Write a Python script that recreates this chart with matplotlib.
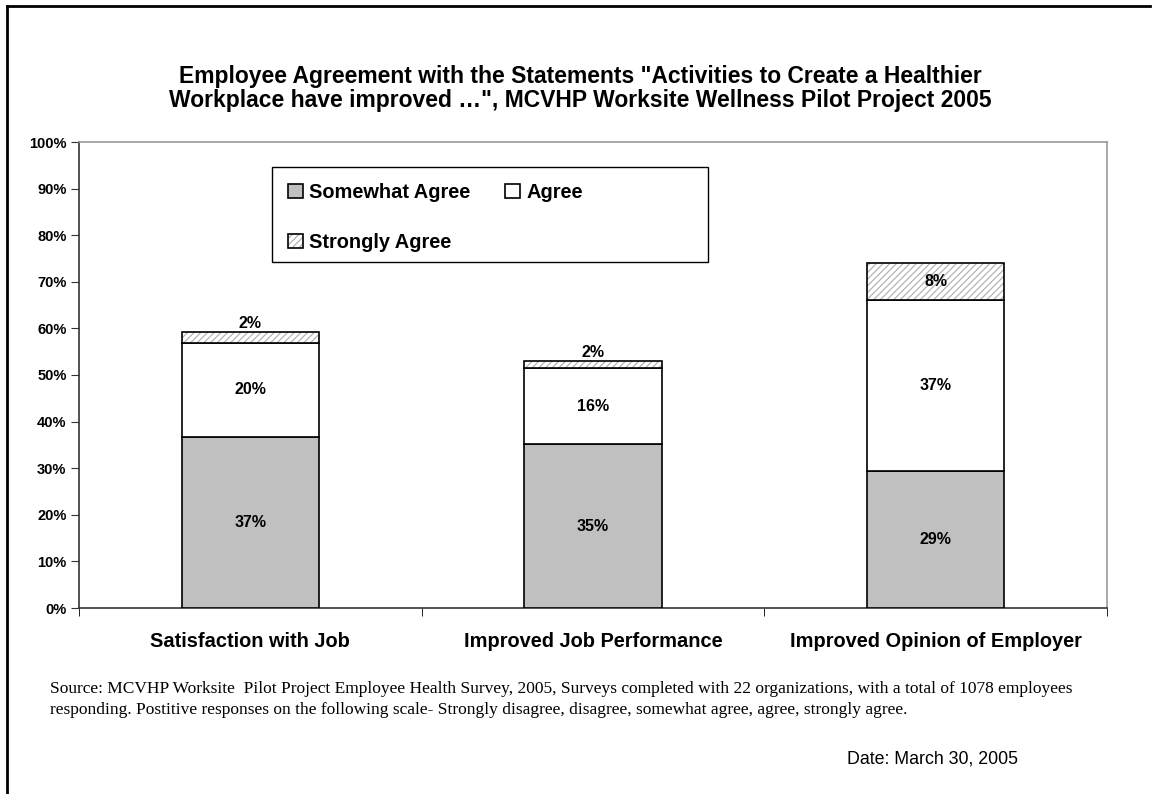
import matplotlib
matplotlib.use("Agg")
import matplotlib.pyplot as plt
from matplotlib.lines import Line2D
from matplotlib.patches import Rectangle
from matplotlib.legend_handler import HandlerTuple
import numpy as np

categories = ["Satisfaction with Job", "Improved Job Performance", "Improved Opinion of Employer"]
somewhat_agree = [36.7, 35.1, 29.4]
agree = [20.2, 16.4, 36.8]
strongly_agree = [2.4, 1.6, 7.9]
series_names = ["Somewhat Agree", "Agree", "Strongly Agree"]
ytick_vals = list(range(0, 101, 10))
ytick_labels = [f"{v}%" for v in ytick_vals]

plt.rcParams['font.family'] = ['Liberation Sans', 'DejaVu Sans']
plt.rcParams['hatch.linewidth'] = 0.9

W, H = 1153, 794
fig = plt.figure(figsize=(W / 100, H / 100), dpi=100)

ax_l, ax_r, ax_t, ax_b = 79, 1107, 142, 608
ax = fig.add_axes([ax_l / W, 1 - ax_b / H, (ax_r - ax_l) / W, (ax_b - ax_t) / H])

x = np.arange(len(categories))
bw = 0.4
sa = np.array(somewhat_agree)
ag = np.array(agree)
st = np.array(strongly_agree)

b1 = ax.bar(x, sa, bw, color='#c0c0c0', edgecolor='black', linewidth=1.2, zorder=3)
b2 = ax.bar(x, ag, bw, bottom=sa, color='white', edgecolor='black', linewidth=1.2, zorder=3)
b3h = ax.bar(x, st, bw, bottom=sa + ag, color='white', edgecolor='#b4b4b4', linewidth=0,
             hatch='/////', zorder=3)
b3o = ax.bar(x, st, bw, bottom=sa + ag, fill=False, edgecolor='black', linewidth=1.2, zorder=4)

lab_kw = dict(ha='center', fontsize=11.5, fontweight='bold', color='black', zorder=5)
for i in range(len(categories)):
    ax.text(x[i], sa[i] / 2, f"{round(sa[i]):.0f}%", va='center', **lab_kw)
    ax.text(x[i], sa[i] + ag[i] / 2, f"{round(ag[i]):.0f}%", va='center', **lab_kw)
    top = sa[i] + ag[i] + st[i]
    if st[i] < 4:
        ax.text(x[i], top + 0.1, f"{round(st[i]):.0f}%", va='bottom', **lab_kw)
    else:
        ax.text(x[i], sa[i] + ag[i] + st[i] / 2, f"{round(st[i]):.0f}%", va='center', **lab_kw)

ax.set_xlim(-0.5, len(categories) - 0.5)
ax.set_ylim(0, 100)
ax.set_yticks(ytick_vals)
ax.set_yticklabels(ytick_labels, fontsize=10.5, fontweight='bold')
ax.set_xticks(x)
ax.set_xticklabels(categories, fontsize=14.4, fontweight='bold')
ax.tick_params(axis='x', length=0, pad=17)
ax.set_xticks(np.arange(len(categories) + 1) - 0.5, minor=True)
ax.tick_params(axis='x', which='minor', length=6, direction='out', color='black')
ax.tick_params(axis='y', length=6, direction='out', color='#333333', pad=3)

for s in ['top', 'right']:
    ax.spines[s].set_color('#999999')
    ax.spines[s].set_linewidth(1.2)
for s in ['left', 'bottom']:
    ax.spines[s].set_color('#333333')
    ax.spines[s].set_linewidth(1.2)

def px2ax(px, py):
    return (px - ax_l) / (ax_r - ax_l), (ax_b - py) / (ax_b - ax_t)

fx0, fy0 = px2ax(272, 262)
fx1, fy1 = px2ax(708, 167)
ax.add_patch(Rectangle((fx0, fy0), fx1 - fx0, fy1 - fy0, transform=ax.transAxes,
                       facecolor='white', edgecolor='black', linewidth=1.0, zorder=6))

ancx, ancy = px2ax(288, 183)
leg = ax.legend(handles=[b1, (b3h, b3o), b2],
                labels=[series_names[0], series_names[2], series_names[1]],
                handler_map={tuple: HandlerTuple(ndivide=1, pad=0)},
                ncol=2, loc='upper left', bbox_to_anchor=(ancx, ancy),
                frameon=False, prop={'weight': 'bold', 'size': 14.4},
                handlelength=0.75, handleheight=0.75, handletextpad=0.3,
                labelspacing=1.55, borderpad=0, borderaxespad=0, columnspacing=1.75)
leg.set_zorder(7)

fig.text(0.503, 1 - 76 / H, 'Employee Agreement with the Statements "Activities to Create a Healthier',
         ha='center', va='center', fontsize=16.5, fontweight='bold')
fig.text(0.503, 1 - 101 / H, 'Workplace have improved \u2026", MCVHP Worksite Wellness Pilot Project 2005',
         ha='center', va='center', fontsize=16.5, fontweight='bold')

src_kw = dict(ha='left', va='center', fontsize=12.5, family=['Liberation Serif', 'DejaVu Serif'])
fig.text(50 / W, 1 - 689 / H,
         "Source: MCVHP Worksite  Pilot Project Employee Health Survey, 2005, Surveys completed with 22 organizations, with a total of 1078 employees",
         **src_kw)
fig.text(50 / W, 1 - 710 / H,
         "responding. Postitive responses on the following scale- Strongly disagree, disagree, somewhat agree, agree, strongly agree.",
         **src_kw)
fig.text(847 / W, 1 - 759 / H, "Date: March 30, 2005", ha='left', va='center', fontsize=12.8)

fig.add_artist(Line2D([7 / W, 1150 / W], [1 - 6 / H, 1 - 6 / H], color='black', linewidth=2, transform=fig.transFigure))
fig.add_artist(Line2D([7 / W, 7 / W], [1 - 6 / H, 0], color='black', linewidth=2, transform=fig.transFigure))

fig.savefig('out.png', dpi=100)
